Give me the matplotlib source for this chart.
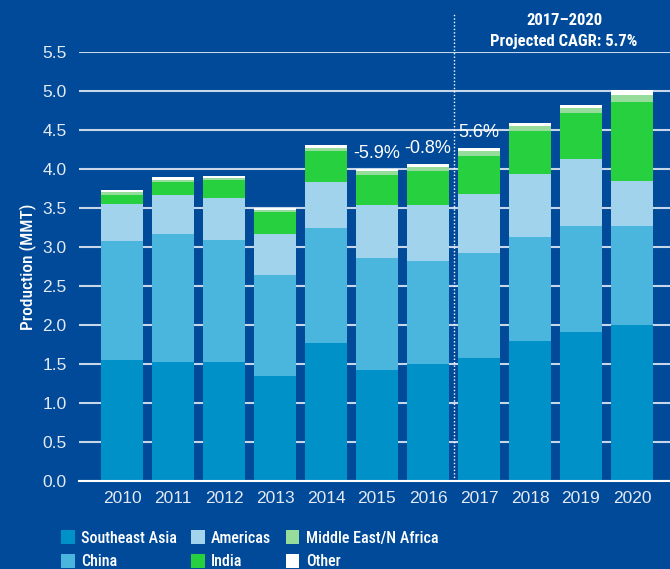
import matplotlib
matplotlib.use("Agg")
import matplotlib.pyplot as plt
from matplotlib.patches import Patch
from matplotlib import font_manager
import numpy as np

years = ["2010", "2011", "2012", "2013", "2014", "2015", "2016", "2017", "2018", "2019", "2020"]
southeast_asia = [1.55, 1.53, 1.53, 1.35, 1.77, 1.42, 1.50, 1.58, 1.79, 1.91, 2.00]
china = [1.53, 1.64, 1.56, 1.29, 1.47, 1.44, 1.32, 1.34, 1.34, 1.36, 1.27]
americas = [0.47, 0.50, 0.54, 0.53, 0.59, 0.68, 0.72, 0.76, 0.81, 0.86, 0.58]
india = [0.12, 0.16, 0.23, 0.28, 0.40, 0.38, 0.43, 0.49, 0.55, 0.59, 1.01]
mena = [0.04, 0.03, 0.02, 0.02, 0.04, 0.05, 0.06, 0.06, 0.06, 0.06, 0.09]
other = [0.02, 0.04, 0.03, 0.03, 0.04, 0.03, 0.03, 0.04, 0.04, 0.04, 0.06]
series_names = ["Southeast Asia", "China", "Americas", "India", "Middle East/N Africa", "Other"]
growth_labels = {"2015": "-5.9%", "2016": "-0.8%", "2017": "5.6%"}
header_lines = ["2017\u20132020", "Projected CAGR: 5.7%"]
y_ticks = [0.0, 0.5, 1.0, 1.5, 2.0, 2.5, 3.0, 3.5, 4.0, 4.5, 5.0, 5.5]

BG = "#004a99"
colors = ["#0091c9", "#4ab6de", "#a1d3ec", "#26d03e", "#96dc9a", "#ffffff"]

available = {f.name for f in font_manager.fontManager.ttflist}
cond_choice = None
for cand in ["Roboto Condensed", "Liberation Sans Narrow", "Open Sans Condensed", "DejaVu Sans Condensed",
             "Noto Sans Condensed", "Roboto"]:
    if cand in available:
        cond_choice = cand
        break
cond = [cond_choice or "Liberation Sans", "DejaVu Sans"]
narrow = cond_choice not in (None, "Roboto")
reg = ["Liberation Sans", "DejaVu Sans"]

W, H = 670, 569
fig = plt.figure(figsize=(W / 100, H / 100), dpi=100, facecolor=BG)
ax_left, ax_bottom, ax_top = 79, 481, 52
ax = fig.add_axes([ax_left / W, (H - ax_bottom) / H, 1 - ax_left / W, (ax_bottom - ax_top) / H])
ax.set_facecolor(BG)

x = np.arange(len(years))
data = [southeast_asia, china, americas, india, mena, other]
bottom = np.zeros(len(years))
for vals, c, name in zip(data, colors, series_names):
    ax.bar(x, vals, bottom=bottom, width=0.82, color=c, label=name, zorder=3, linewidth=0)
    bottom += np.array(vals)
totals = bottom

ax.set_xlim(-(122 - ax_left) / 51, (W - 122) / 51)
ax.set_ylim(0, 5.5)
ax.set_yticks(y_ticks)
ax.set_yticklabels([f"{t:.1f}" for t in y_ticks], family=reg, fontsize=12.5, color="#e4eaf3")
ax.set_xticks(x)
ax.set_xticklabels(years, family=reg, fontsize=12.5, color="#e4eaf3")
ax.tick_params(axis="both", length=0)
ax.tick_params(axis="y", pad=9)
ax.tick_params(axis="x", pad=7)
ax.grid(axis="y", color="#c8d6ea", linewidth=1.5, zorder=0)
for s in ["left", "right", "top"]:
    ax.spines[s].set_visible(False)
ax.spines["bottom"].set_color("white")
ax.spines["bottom"].set_linewidth(1.5)
ax.spines["bottom"].set_zorder(4)

lab_size = 12.5 if narrow else 11
ax.set_ylabel("Production (MMT)", family=cond, fontsize=lab_size, fontweight="medium", color="white", labelpad=4)

for i, yr in enumerate(years):
    if yr in growth_labels:
        ax.annotate(growth_labels[yr], (x[i], totals[i]), xytext=(0, 5), textcoords="offset points",
                    ha="center", va="bottom", color="white", fontsize=13, family=reg, zorder=5)

ax.plot([6.5, 6.5], [0, 6.0], color="white", linestyle=(0, (1, 1.5)), linewidth=1, clip_on=False, zorder=5)

hdr_size = 12 if narrow else 11
ax.text(8.67, 5.90, header_lines[0], ha="center", va="center", color="white", fontsize=hdr_size,
        fontweight="bold", family=cond, clip_on=False)
ax.text(8.67, 5.63, header_lines[1], ha="center", va="center", color="white", fontsize=hdr_size,
        fontweight="bold", family=cond, clip_on=False)

handles = [Patch(facecolor=c, edgecolor="none") for c in colors]
fig.legend(handles, series_names, ncol=3, loc="upper left", bbox_to_anchor=(61 / W, 1 - 530 / H),
           frameon=False, prop={"family": cond, "size": (11.5 if narrow else 10.5), "weight": "medium"},
           labelcolor="white", handlelength=0.85, handleheight=1.0, handletextpad=0.4,
           columnspacing=0.9, labelspacing=0.5, borderaxespad=0, borderpad=0)

fig.savefig("out.png", dpi=100, facecolor=BG)
